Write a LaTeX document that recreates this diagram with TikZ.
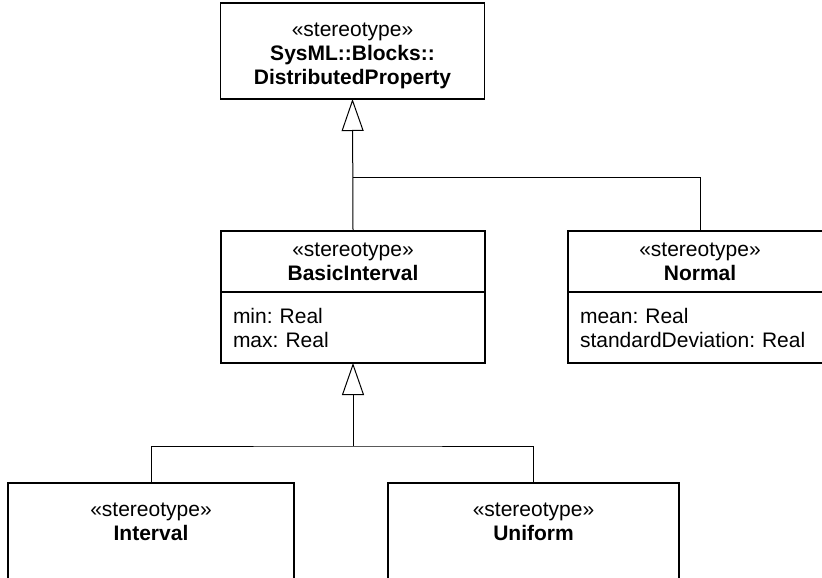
\documentclass[tikz,border=0pt]{standalone}
\usepackage{fontspec}
\setmainfont{Liberation Sans}
\usepackage{tikz}
\usetikzlibrary{arrows.meta,positioning}
\frenchspacing
\newcommand{\umlfont}{\fontsize{10.5pt}{12pt}\selectfont}
\newcommand{\stereo}[1]{«stereotype»\\\textbf{#1}}
\newcommand{\topgap}{\rule{0pt}{12pt}}

\tikzset{
  box/.style={draw, line width=0.7pt, inner sep=0pt, outer sep=0pt, font=\umlfont},
  head/.style={box, align=center, minimum width=132pt},
  body/.style={box, align=left, text width=120pt, inner xsep=6pt, minimum height=35.5pt},
  frame/.style={box, anchor=north, minimum height=80pt},
  title/.style={align=center, inner sep=0pt, font=\umlfont},
  link/.style={line width=0.5pt},
  gen/.style={link, -{Triangle[open, length=16pt, width=11pt]}}
}

\begin{document}
\begin{tikzpicture}[x=0.5pt, y=-0.5pt]
    \useasboundingbox (0,0) rectangle (822,577);
    \clip (0,0) rectangle (822,577);
    % top stereotype
    \node[head, minimum height=48pt] (dp) at (352.5,51) {\topgap«stereotype»\\\textbf{SysML::Blocks::}\\\textbf{DistributedProperty}};
    % middle row
    \node[head, minimum height=30.5pt] (bihead) at (353,261.5) {\stereo{BasicInterval}};
    \node[body, below=0pt of bihead] (bibody) {min: Real\\max: Real};
    \node[head, minimum height=30.5pt] (nohead) at (700,261.5) {\stereo{Normal}};
    \node[body, below=0pt of nohead] (nobody) {mean: Real\\standardDeviation: Real};
    % bottom row, cut by the page edge
    \node[frame, minimum width=143pt] (ivbox) at (151,483) {};
    \node[title, below=10pt of ivbox.north] (ivtitle) {\stereo{Interval}};
    \node[frame, minimum width=145.5pt] (unbox) at (533.5,483) {};
    \node[title, below=10pt of unbox.north] (untitle) {\stereo{Uniform}};
    % generalizations
    \coordinate (fork1) at (353,177);
    \coordinate (fork2) at (353,446);
    \draw[gen] (bihead.north) -- (dp.south);
    \draw[link] (nohead.north) |- (fork1);
    \draw[gen] (fork2) -- (bibody.south);
    \draw[link] (ivbox.north) |- (fork2) -| (unbox.north);
\end{tikzpicture}
\end{document}
